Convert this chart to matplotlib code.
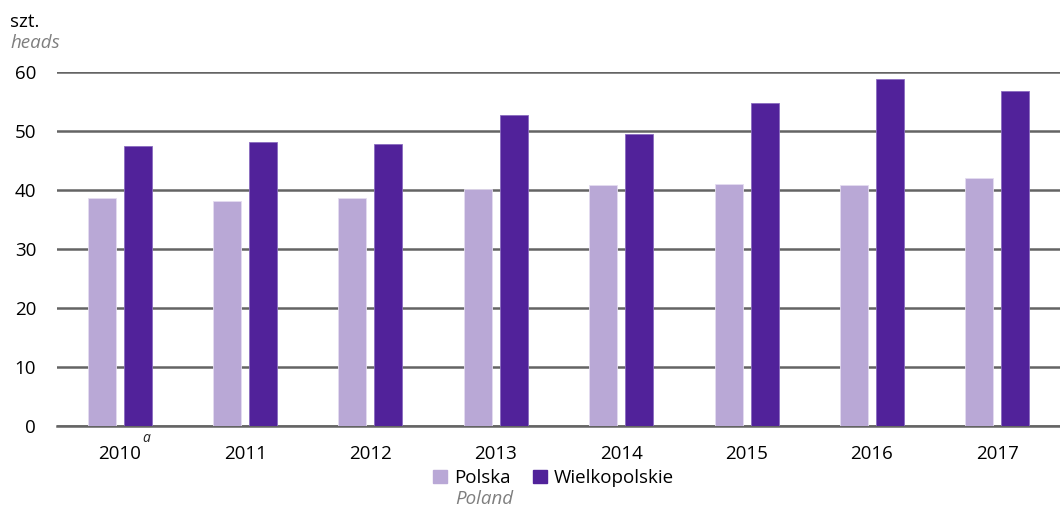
import matplotlib.pyplot as plt
import numpy as np
from matplotlib.patches import Patch

plt.rcParams['font.family'] = ['Open Sans', 'DejaVu Sans']

years = ['2010', '2011', '2012', '2013', '2014', '2015', '2016', '2017']
polska = [38.6, 38.1, 38.6, 40.2, 40.8, 41.0, 40.8, 42.0]
wielkopolskie = [47.5, 48.1, 47.8, 52.7, 49.5, 54.7, 58.8, 56.8]

c_pl = '#b9a8d6'
c_wlkp = '#51229a'

fig = plt.figure(figsize=(10.6, 5.07), dpi=100)
ax = fig.add_axes([0.0538, 0.1598, 0.9462, 0.6982])

x = np.arange(len(years))
w = 0.223
ax.bar(x - 0.1435, polska, w, color=c_pl, edgecolor='#e4dcf0', linewidth=0.6, zorder=3)
ax.bar(x + 0.1435, wielkopolskie, w, color=c_wlkp, edgecolor='#8a6cc0', linewidth=0.6, zorder=3)

ax.set_xlim(-0.5, len(years) - 0.5)
ax.set_ylim(0, 60)
ax.set_yticks(range(0, 61, 10))
ax.yaxis.grid(True, color='#646464', linewidth=1.8, zorder=0)
ax.set_axisbelow(True)
for s in ['top', 'right', 'left']:
    ax.spines[s].set_visible(False)
ax.spines['bottom'].set_color('#646464')
ax.spines['bottom'].set_linewidth(1.8)
ax.tick_params(axis='y', length=0, pad=15, labelsize=13.5)
ax.tick_params(axis='x', length=0, pad=14, labelsize=13.5)
ax.set_xticks(x)
ax.set_xticklabels(years)

# footnote mark next to 2010
ax.annotate('a', xy=(0, 0), xytext=(19, -9), textcoords='offset points',
            fontsize=10, style='italic', color='#222222', ha='center', va='center')

fig.text(10 / 1060, 1 - 22 / 507, 'szt.', fontsize=13.5, va='center', ha='left')
fig.text(10 / 1060, 1 - 43 / 507, 'heads', fontsize=13.5, va='center', ha='left',
         style='italic', color='#7f7f7f')

handles = [Patch(color=c_pl, label='Polska'), Patch(color=c_wlkp, label='Wielkopolskie')]
fig.legend(handles=handles, loc='center', bbox_to_anchor=(0.522, 1 - 478 / 507),
           ncol=2, frameon=False, fontsize=13.5, handlelength=0.75, handleheight=0.75,
           handletextpad=0.35, columnspacing=1.2)
fig.text(455 / 1060, 1 - 499 / 507, 'Poland', fontsize=13.5, va='center', ha='left',
         style='italic', color='#7f7f7f')

fig.savefig('out.png', dpi=100)
